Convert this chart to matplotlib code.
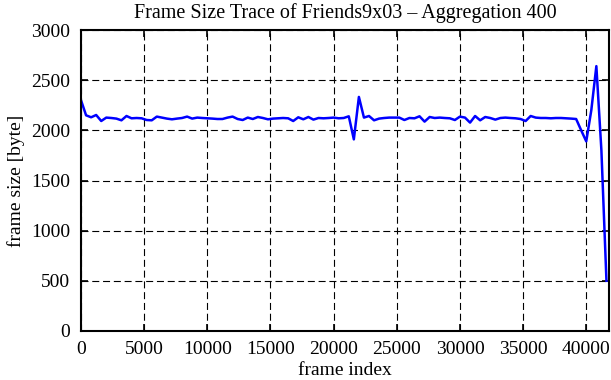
import numpy as np
import matplotlib
matplotlib.use("Agg")
import matplotlib.pyplot as plt

plt.rcParams['font.family'] = ['Liberation Serif', 'DejaVu Serif']

# frame index step (aggregation window)
step = 400
frame_size = [
    2300, 2150, 2130, 2153, 2093, 2127, 2123, 2117, 2100, 2143,
    2120, 2123, 2120, 2103, 2100, 2137, 2127, 2117, 2110, 2117,
    2123, 2137, 2117, 2127, 2123, 2120, 2117, 2113, 2113, 2127,
    2137, 2113, 2103, 2127, 2113, 2133, 2123, 2110, 2117, 2120,
    2123, 2120, 2093, 2130, 2110, 2133, 2107, 2123, 2120, 2123,
    2127, 2120, 2123, 2140, 1910, 2333, 2127, 2143, 2100, 2117,
    2123, 2127, 2127, 2127, 2103, 2123, 2120, 2140, 2087, 2133,
    2123, 2127, 2123, 2120, 2103, 2137, 2127, 2077, 2143, 2100,
    2133, 2123, 2107, 2123, 2127, 2123, 2120, 2113, 2093, 2143,
    2127, 2123, 2123, 2120, 2123, 2123, 2120, 2117, 2113, 2000,
    1890, 2200, 2640, 1800, 500,
]
frame_index = np.arange(len(frame_size)) * step

xticks = [0, 5000, 10000, 15000, 20000, 25000, 30000, 35000, 40000]
yticks = [0, 500, 1000, 1500, 2000, 2500, 3000]

fig = plt.figure(figsize=(6.11, 3.80), dpi=100)
ax = fig.add_axes([0.1326, 0.129, 0.8641, 0.792])

ax.plot(frame_index, frame_size, color='#0000ff', linewidth=1.8)

ax.set_xlim(0, 41800)
ax.set_ylim(0, 3000)
ax.set_xticks(xticks)
ax.set_yticks(yticks)
ax.grid(True, color='black', linestyle=(0, (6.3, 3.4)), linewidth=0.8)
ax.tick_params(direction='in', top=True, right=True, length=5, width=1.2,
               labelsize=14)
ax.tick_params(axis='x', pad=7)
ax.tick_params(axis='y', pad=8)
for s in ax.spines.values():
    s.set_linewidth(1.5)

ax.set_xlabel("frame index", fontsize=14, labelpad=3)
ax.set_ylabel("frame size [byte]", fontsize=14, labelpad=4)
ax.set_title("Frame Size Trace of Friends9x03 \u2013 Aggregation 400", fontsize=14.5, pad=9)

fig.savefig("out.png", dpi=100)
